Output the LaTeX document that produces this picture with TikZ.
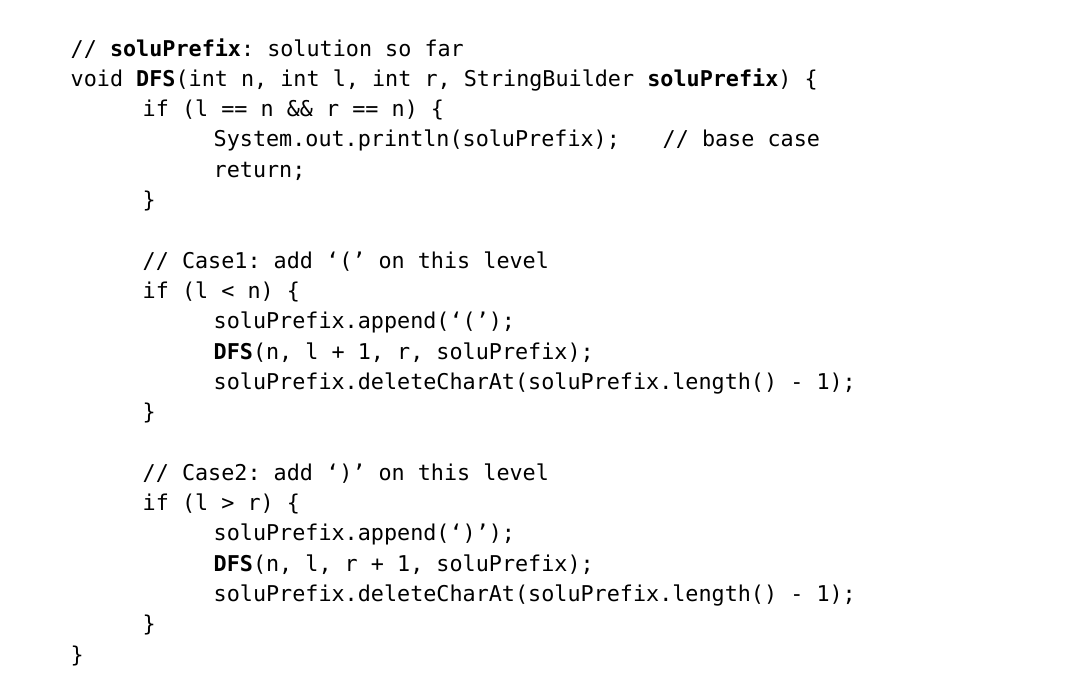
\documentclass[tikz,border=0pt]{standalone}
\usepackage{fontspec}
\setmonofont{DejaVu Sans Mono}
\begin{document}
\begin{tikzpicture}[x=0.01cm,y=-0.01cm,
	code/.style={anchor=base west,inner sep=0pt,font=\ttfamily\fontsize{6.19pt}{8.6pt}\selectfont}]
	\useasboundingbox[fill=white] (0,0) rectangle (1075,697);
	\node (head) at (70,56) [code] {// \textbf{soluPrefix}: solution so far};
	\node (sig) at (70,86.3) [code] {void \textbf{DFS}(int n, int l, int r, StringBuilder \textbf{soluPrefix}) \{};
	\node (ifbase) at (142,116.6) [code] {if (l == n \&\& r == n) \{};
	\node (print) at (213,146.9) [code] {System.out.println(soluPrefix);};
	\node (basecmt) at (662,146.9) [code] {// base case};
	\node (ret) at (213,177.2) [code] {return;};
	\node (endbase) at (142,207.5) [code] {\}};
	% case 1
	\node (cmtone) at (142,268.1) [code] {// Case1: add ‘(’ on this level};
	\node (ifone) at (142,298.4) [code] {if (l < n) \{};
	\node (appone) at (213,328.7) [code] {soluPrefix.append(‘(’);};
	\node (dfsone) at (213,359) [code] {\textbf{DFS}(n, l + 1, r, soluPrefix);};
	\node (delone) at (213,389.3) [code] {soluPrefix.deleteCharAt(soluPrefix.length() - 1);};
	\node (endone) at (142,419.6) [code] {\}};
	% case 2
	\node (cmttwo) at (142,480.2) [code] {// Case2: add ‘)’ on this level};
	\node (iftwo) at (142,510.5) [code] {if (l > r) \{};
	\node (apptwo) at (213,540.8) [code] {soluPrefix.append(‘)’);};
	\node (dfstwo) at (213,571.1) [code] {\textbf{DFS}(n, l, r + 1, soluPrefix);};
	\node (deltwo) at (213,601.4) [code] {soluPrefix.deleteCharAt(soluPrefix.length() - 1);};
	\node (endtwo) at (142,631.7) [code] {\}};
	\node (endsig) at (70,662) [code] {\}};
\end{tikzpicture}
\end{document}
